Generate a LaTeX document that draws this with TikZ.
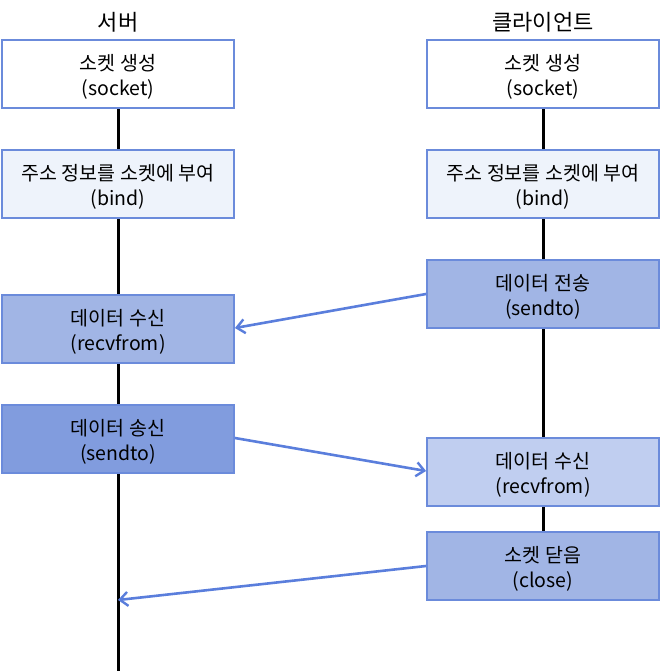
\documentclass[tikz,border=0pt]{standalone}
\usepackage{fontspec}
\setmainfont{Noto Sans CJK KR}
\usetikzlibrary{arrows.meta}
\definecolor{edge}{HTML}{6B8BDB}
\definecolor{arr}{HTML}{5A7EDC}
\definecolor{fwhite}{HTML}{FFFFFF}
\definecolor{flight}{HTML}{EEF3FB}
\definecolor{fmid}{HTML}{A1B5E5}
\definecolor{fdark}{HTML}{819CDE}
\definecolor{fpale}{HTML}{C0CEF0}
\newcommand\stepbx[5]{%
  \node[box,fill=#2] (#1) at (#3) {};
  \node[boxtxt] (#1t) at ([yshift=-3pt]#1.center) {#4\\#5};}
\begin{document}
\begin{tikzpicture}[x=1pt,y=-1pt,
  box/.style={draw=edge,line width=1.8pt,minimum width=232pt,minimum height=68pt,inner sep=0pt},
  boxtxt/.style={align=center,font=\fontsize{19.5}{25}\selectfont,inner sep=0pt},
  life/.style={line width=3pt,black},
  msg/.style={arr,line width=2.6pt,-{Straight Barb[length=8pt,width=14pt,line width=2.4pt]}},
  title/.style={font=\fontsize{22}{24}\selectfont}]
\useasboundingbox (0,0) rectangle (660,671);
% titles
\node[title] (ts) at (118,22) {서버};
\node[title] (tc) at (543,22) {클라이언트};
% lifelines
\coordinate (sbot) at (118,671);
\coordinate (stop) at (118,74);
\coordinate (ctop) at (543,74);
\coordinate (cbot) at (543,566);
\draw[life] (stop) -- (sbot);
\draw[life] (ctop) -- (cbot);
% server boxes
\stepbx{s1}{fwhite}{118,74}{소켓 생성}{(socket)}
\stepbx{s2}{flight}{118,184}{주소 정보를 소켓에 부여}{(bind)}
\stepbx{s3}{fmid}{118,329}{데이터 수신}{(recvfrom)}
\stepbx{s4}{fdark}{118,439}{데이터 송신}{(sendto)}
% client boxes
\stepbx{c1}{fwhite}{543,74}{소켓 생성}{(socket)}
\stepbx{c2}{flight}{543,184}{주소 정보를 소켓에 부여}{(bind)}
\stepbx{c3}{fmid}{543,294}{데이터 전송}{(sendto)}
\stepbx{c4}{fpale}{543,472}{데이터 수신}{(recvfrom)}
\stepbx{c5}{fmid}{543,566}{소켓 닫음}{(close)}
% messages
\coordinate (end5) at (118,600);
\draw[msg] (c3.west) -- ([yshift=1pt]s3.east);
\draw[msg] ([yshift=1pt]s4.east) -- ([yshift=1pt]c4.west);
\draw[msg] (c5.west) -- (end5);
\end{tikzpicture}
\end{document}
